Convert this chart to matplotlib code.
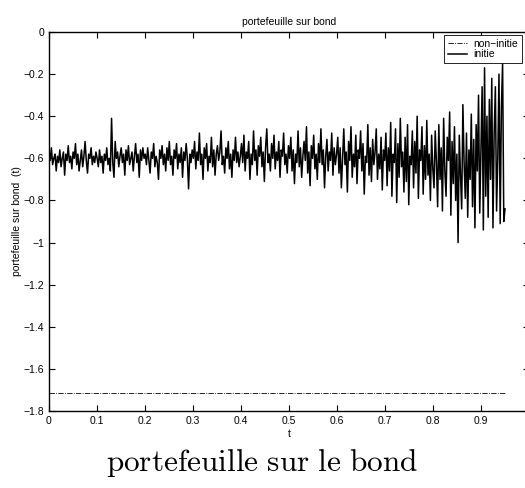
import numpy as np
import matplotlib
matplotlib.use("Agg")
import matplotlib.pyplot as plt

plt.rcParams['font.family'] = ['Liberation Sans', 'DejaVu Sans']
plt.rcParams['mathtext.fontset'] = 'cm'
plt.rcParams['axes.unicode_minus'] = True

t_start, t_end = 0.0, 0.95
non_initie_level = -1.715

initie = [
    # 0.0 - 0.1
    -0.57, -0.61, -0.55, -0.63, -0.60, -0.58, -0.66, -0.59, -0.62, -0.56,
    -0.64, -0.60, -0.57, -0.68, -0.58, -0.61, -0.54, -0.62, -0.59, -0.65,
    -0.57, -0.60, -0.53, -0.63, -0.58, -0.66, -0.61, -0.56, -0.64, -0.59,
    -0.52, -0.61, -0.67, -0.58, -0.60, -0.55, -0.63, -0.59, -0.62, -0.57,
    # 0.1 - 0.2
    -0.60, -0.64, -0.56, -0.62, -0.59, -0.67, -0.58, -0.61, -0.55, -0.63,
    -0.60, -0.66, -0.41, -0.62, -0.69, -0.52, -0.60, -0.57, -0.64, -0.59,
    -0.55, -0.62, -0.58, -0.68, -0.56, -0.61, -0.54, -0.63, -0.60, -0.57,
    -0.66, -0.59, -0.53, -0.62, -0.58, -0.69, -0.56, -0.61, -0.55, -0.60,
    # 0.2 - 0.3
    -0.58, -0.63, -0.55, -0.61, -0.67, -0.57, -0.60, -0.53, -0.64, -0.59,
    -0.62, -0.70, -0.56, -0.60, -0.54, -0.63, -0.58, -0.66, -0.55, -0.61,
    -0.52, -0.63, -0.59, -0.68, -0.56, -0.60, -0.53, -0.65, -0.58, -0.62,
    -0.55, -0.69, -0.57, -0.61, -0.53, -0.60, -0.745, -0.58, -0.62, -0.56,
    # 0.3 - 0.4
    -0.60, -0.52, -0.65, -0.57, -0.61, -0.48, -0.63, -0.58, -0.70, -0.55,
    -0.60, -0.53, -0.66, -0.59, -0.62, -0.50, -0.64, -0.56, -0.68, -0.58,
    -0.54, -0.61, -0.57, -0.47, -0.63, -0.59, -0.67, -0.55, -0.60, -0.52,
    -0.65, -0.58, -0.69, -0.56, -0.61, -0.50, -0.62, -0.57, -0.64, -0.59,
    # 0.4 - 0.5
    -0.53, -0.62, -0.49, -0.66, -0.57, -0.60, -0.52, -0.70, -0.58, -0.63,
    -0.47, -0.61, -0.56, -0.68, -0.54, -0.59, -0.50, -0.64, -0.57, -0.71,
    -0.55, -0.46, -0.62, -0.58, -0.66, -0.53, -0.60, -0.49, -0.65, -0.57,
    -0.61, -0.52, -0.69, -0.56, -0.59, -0.48, -0.63, -0.58, -0.67, -0.54,
    # 0.5 - 0.6
    -0.60, -0.50, -0.66, -0.56, -0.72, -0.58, -0.62, -0.47, -0.64, -0.55,
    -0.69, -0.59, -0.52, -0.61, -0.45, -0.67, -0.57, -0.73, -0.54, -0.60,
    -0.49, -0.65, -0.58, -0.70, -0.53, -0.62, -0.46, -0.63, -0.56, -0.74,
    -0.59, -0.51, -0.66, -0.57, -0.61, -0.48, -0.68, -0.55, -0.63, -0.58,
    # 0.6 - 0.7
    -0.50, -0.67, -0.55, -0.74, -0.60, -0.46, -0.63, -0.57, -0.76, -0.52,
    -0.61, -0.45, -0.69, -0.58, -0.64, -0.49, -0.72, -0.56, -0.60, -0.47,
    -0.66, -0.53, -0.77, -0.59, -0.62, -0.44, -0.68, -0.55, -0.71, -0.51,
    -0.63, -0.57, -0.46, -0.70, -0.58, -0.65, -0.50, -0.75, -0.56, -0.61,
    # 0.7 - 0.8
    -0.48, -0.73, -0.55, -0.66, -0.43, -0.78, -0.58, -0.62, -0.46, -0.81,
    -0.53, -0.69, -0.41, -0.64, -0.57, -0.76, -0.50, -0.71, -0.44, -0.82,
    -0.59, -0.63, -0.47, -0.74, -0.52, -0.67, -0.40, -0.79, -0.56, -0.61,
    -0.45, -0.77, -0.54, -0.70, -0.42, -0.68, -0.58, -0.80, -0.49, -0.65,
    # 0.8 - 0.9
    -0.74, -0.47, -0.62, -0.83, -0.44, -0.70, -0.55, -0.85, -0.41, -0.66,
    -0.78, -0.50, -0.61, -0.38, -0.87, -0.52, -0.72, -0.45, -0.80, -0.58,
    -1.00, -0.49, -0.68, -0.84, -0.345, -0.62, -0.79, -0.48, -0.88, -0.56,
    -0.70, -0.39, -0.83, -0.51, -0.93, -0.44, -0.66, -0.30, -0.86, -0.55,
    # 0.9 - 0.95
    -0.26, -0.94, -0.17, -0.78, -0.40, -0.88, -0.32, -0.70, -0.22, -0.93,
    -0.48, -0.26, -0.85, -0.60, -0.20, -0.91, -0.36, -0.15, -0.90, -0.84,
]

xticks = [0, 0.1, 0.2, 0.3, 0.4, 0.5, 0.6, 0.7, 0.8, 0.9, 1.0]
xticklabels = ['0', '0.1', '0.2', '0.3', '0.4', '0.5', '0.6', '0.7', '0.8', '0.9', '']
yticks = [0, -0.2, -0.4, -0.6, -0.8, -1.0, -1.2, -1.4, -1.6, -1.8]
yticklabels = ['0', '\u22120.2', '\u22120.4', '\u22120.6', '\u22120.8', '\u22121',
               '\u22121.2', '\u22121.4', '\u22121.6', '\u22121.8']

t = np.linspace(t_start, t_end, len(initie))

fig = plt.figure(figsize=(5.25, 4.88), dpi=100)
ax = fig.add_axes([49/525, 77/488, 480/525, 379/488])

ax.plot([t_start, t_end], [non_initie_level, non_initie_level], color='black',
        linestyle='-.', linewidth=0.6, label='non\u2212initie')
ax.plot(t, initie, color='black', linewidth=1.1, label='initie')

ax.set_xlim(0, 1.0)
ax.set_ylim(-1.8, 0)
ax.set_xticks(xticks)
ax.set_xticklabels(xticklabels)
ax.set_yticks(yticks)
ax.set_yticklabels(yticklabels)
ax.tick_params(direction='in', top=True, right=True, labelsize=7.5, length=4, width=0.8)
for s in ax.spines.values():
    s.set_linewidth(1.0)

ax.set_title('portefeuille sur bond', fontsize=7.5, pad=5)
ax.set_xlabel('t', fontsize=7.5, labelpad=2)
ax.set_ylabel('portefeuille sur bond  (t)', fontsize=7.5, labelpad=1)

leg = ax.legend(loc='upper left', bbox_to_anchor=((444 - 49) / 480, 1 - 3 / 379), fontsize=7.5,
                frameon=True, fancybox=False, edgecolor='black', framealpha=1,
                handlelength=1.9, borderpad=0.35, labelspacing=0.05, handletextpad=0.6,
                borderaxespad=0)
leg.get_frame().set_linewidth(0.6)

fig.text(0.5, 0.051, r'$\mathrm{portefeuille\ sur\ le\ bond}$', ha='center',
         va='center', fontsize=22.5)

fig.savefig('out.png', dpi=100)
